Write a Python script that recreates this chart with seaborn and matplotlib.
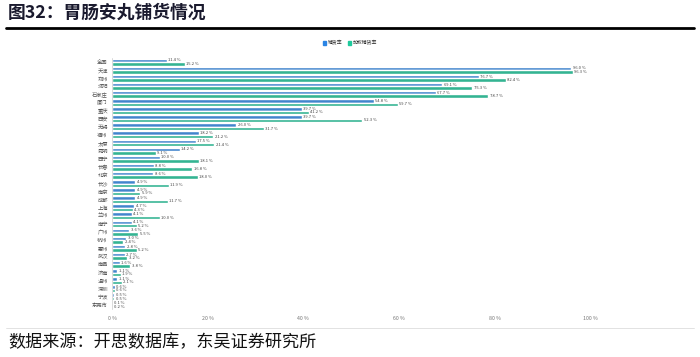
import pandas as pd
import matplotlib.pyplot as plt
import seaborn as sns

# data
cities = ['全国', '天津', '郑州', '沈阳', '石家庄', '厦门', '重庆', '西安', '无锡', '福州',
          '太原', '昆明', '西宁', '长春', '北京', '长沙', '南京', '成都', '上海', '兰州',
          '南宁', '广州', '杭州', '惠州', '武汉', '南昌', '济南', '温州', '深圳', '宁波', '东莞市']
rate = [11.4, 96.0, 76.7, 69.1, 67.7, 54.8, 39.7, 39.7, 26.0, 18.2,
        17.5, 14.2, 10.0, 8.8, 8.6, 4.9, 4.9, 4.9, 4.7, 4.1,
        4.1, 3.6, 3.0, 2.8, 2.7, 1.6, 1.1, 1.1, 0.6, 0.5, 0.1]
weighted = [15.2, 96.3, 82.4, 75.3, 78.7, 59.7, 41.2, 52.3, 31.7, 21.2,
            21.4, 9.1, 18.1, 16.8, 18.0, 11.9, 5.9, 11.7, 4.3, 10.0,
            5.2, 5.5, 2.4, 5.2, 3.2, 3.8, 1.9, 2.1, 0.6, 0.5, 0.2]
series = ['铺货率', '加权铺货率']
colors = ['#2a84e4', '#1fc99c']

df = pd.DataFrame({
    'city': cities * 2,
    'value': rate + weighted,
    'series': [series[0]] * len(cities) + [series[1]] * len(cities),
})

sns.set_style('white')
plt.rcParams['font.family'] = ['Noto Sans CJK SC', 'DejaVu Sans']

fig = plt.figure(figsize=(7, 3.57), dpi=100)
ax = fig.add_axes([112 / 700, 48 / 357, 550 / 700, 251 / 357])

sns.barplot(data=df, y='city', x='value', hue='series', palette=colors,
            orient='h', width=0.86, ax=ax, legend=False)

for cont in ax.containers:
    ax.bar_label(cont, fmt='%.1f %%', fontsize=3.0, color='#444444', padding=1)

ax.set_xlim(0, 115)
ax.set_xticks([0, 20, 40, 60, 80, 100])
ax.set_xticklabels(['0 %', '20 %', '40 %', '60 %', '80 %', '100 %'])
ax.tick_params(axis='x', labelsize=3.8, colors='#777777', length=0, pad=5)
ax.tick_params(axis='y', labelsize=3.8, colors='#555555', length=0, pad=3)
ax.set_xlabel('')
ax.set_ylabel('')
for s in ['top', 'right', 'bottom']:
    ax.spines[s].set_visible(False)
ax.spines['left'].set_color('#cccccc')
ax.spines['left'].set_linewidth(0.5)

handles = [plt.Rectangle((0, 0), 1, 1, color=c) for c in colors]
fig.legend(handles, series, loc='center', bbox_to_anchor=(0.5, 1 - 43 / 357), ncol=2,
           fontsize=3.5, frameon=False, handlelength=0.7, handleheight=0.7,
           handletextpad=0.4, columnspacing=1.0)

# header and footer
fig.text(8 / 700, 1 - 13 / 357, '图32：胃肠安丸铺货情况', fontsize=12.8, fontweight='bold',
         color='#1a1a2e', va='center', ha='left')
fig.add_artist(plt.Line2D([6 / 700, 694 / 700], [1 - 28 / 357, 1 - 28 / 357],
                          color='black', linewidth=2))
fig.add_artist(plt.Line2D([6 / 700, 694 / 700], [1 - 328 / 357, 1 - 328 / 357],
                          color='#dddddd', linewidth=0.6))
fig.text(8 / 700, 1 - 342 / 357, '数据来源：开思数据库，东吴证券研究所', fontsize=12.3,
         color='#111111', va='center', ha='left')

fig.savefig('out.png', dpi=100)
